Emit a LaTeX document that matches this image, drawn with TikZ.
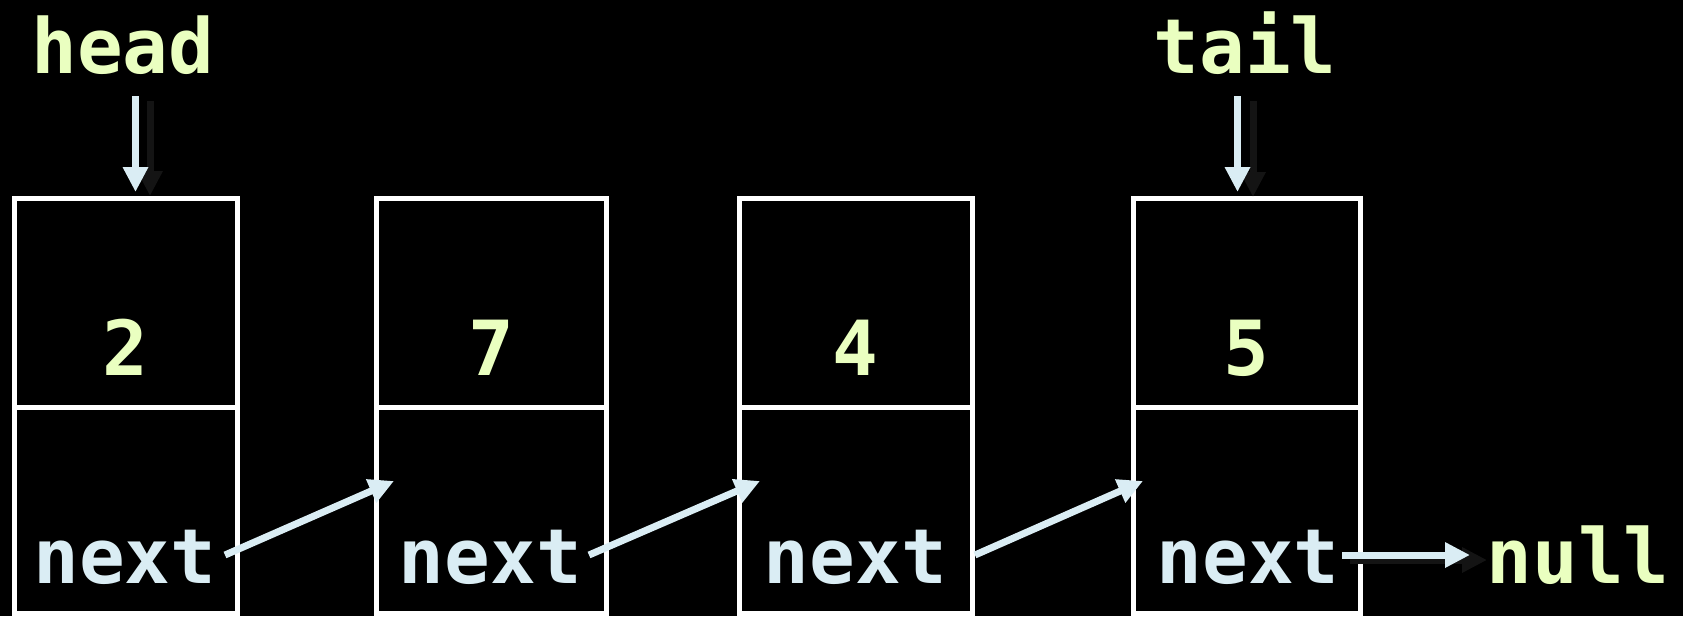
\documentclass[tikz,border=0pt]{standalone}
\usepackage{fontspec}
\setmonofont{DejaVu Sans Mono}
\usetikzlibrary{arrows.meta}
\definecolor{lbl}{HTML}{EAFFC0}
\definecolor{ptr}{HTML}{DAEDF4}
\definecolor{shd}{HTML}{141414}
\tikzset{
  cellbox/.style={draw=white, line width=5pt, inner sep=0pt, outer sep=0pt, minimum width=#1},
  topcell/.style={cellbox=#1, minimum height=209pt},
  botcell/.style={cellbox=#1, minimum height=206pt},
  bigtxt/.style={font=\ttfamily\bfseries\fontsize{76}{76}\selectfont, inner sep=0pt, anchor=base},
  valtxt/.style={bigtxt, text=lbl},
  nexttxt/.style={bigtxt, text=ptr},
  link/.style={draw=ptr, line width=7pt, -{Triangle[length=25pt,width=24pt]}},
  shadowlink/.style={draw=shd, line width=7pt, -{Triangle[length=25pt,width=24pt]}}
}
\begin{document}
\begin{tikzpicture}[x=1pt,y=-1pt]
\fill[black] (0,0) rectangle (1683,616);
\useasboundingbox (0,0) rectangle (1683,616);
% cells
\node[topcell=223] (v1) at (125.5,302.5) {};
\node[botcell=223] (p1) at (125.5,510) {};
\node[topcell=230] (v2) at (491,302.5) {};
\node[botcell=230] (p2) at (491,510) {};
\node[topcell=233] (v3) at (856,302.5) {};
\node[botcell=233] (p3) at (856,510) {};
\node[topcell=227] (v4) at (1246.5,302.5) {};
\node[botcell=227] (p4) at (1246.5,510) {};
% values
\node[valtxt] (n1) at (125.5,375) {2};
\node[valtxt] (n2) at (491.5,375) {7};
\node[valtxt] (n3) at (855.5,375) {4};
\node[valtxt] (n4) at (1246.5,375) {5};
% next labels
\node[nexttxt] (x1) at (125,583) {next};
\node[nexttxt] (x2) at (490.5,583) {next};
\node[nexttxt] (x3) at (855.5,583) {next};
\node[nexttxt] (x4) at (1248,583) {next};
% head, tail, null
\node[valtxt] (head) at (123,73) {head};
\node[valtxt] (tail) at (1245,73) {tail};
\node[valtxt] (null) at (1578,583) {null};
% coordinates
\coordinate (hs) at (135.5,96);
\coordinate (he) at (135.5,192);
\coordinate (hss) at (150,101);
\coordinate (hse) at (150,196);
\coordinate (ts) at (1237.5,96);
\coordinate (te) at (1237.5,192);
\coordinate (tss) at (1253,101);
\coordinate (tse) at (1253,197);
\coordinate (s1) at (225,555);
\coordinate (e1) at (394,481);
\coordinate (s2) at (589,555);
\coordinate (e2) at (760,481);
\coordinate (s3) at (975,555);
\coordinate (e3) at (1143,481);
\coordinate (s4) at (1342,555);
\coordinate (e4) at (1470,555);
\coordinate (s4s) at (1350,560);
\coordinate (e4s) at (1487,560);
% shadows
\draw[shadowlink] (hss) -- (hse);
\draw[shadowlink] (tss) -- (tse);
\draw[shadowlink] (s4s) -- (e4s);
% links
\draw[link] (hs) -- (he);
\draw[link] (ts) -- (te);
\draw[link] (s1) -- (e1);
\draw[link] (s2) -- (e2);
\draw[link] (s3) -- (e3);
\draw[link] (s4) -- (e4);
\end{tikzpicture}
\end{document}
